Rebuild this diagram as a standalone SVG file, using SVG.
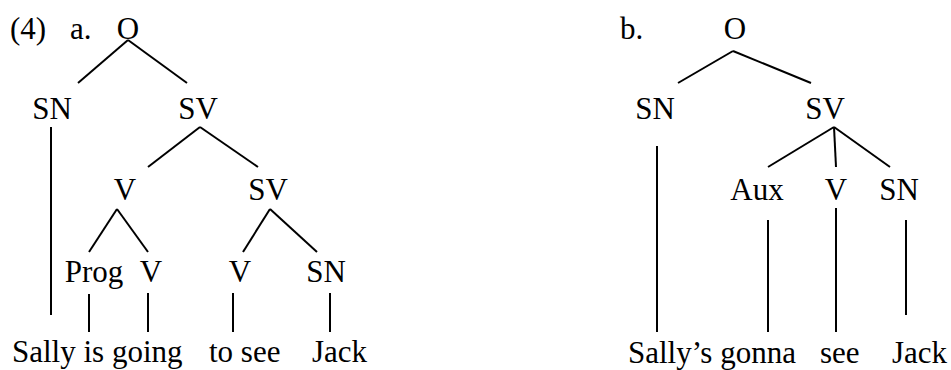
<svg xmlns="http://www.w3.org/2000/svg" width="951" height="370" viewBox="0 0 951 370">
<style>
text{font-family:"Liberation Serif","Times New Roman",serif;font-size:31px;fill:#000}
.c{text-anchor:middle}
line{stroke:#000;stroke-width:2}
</style>
<rect width="951" height="370" fill="#fff"/>
<g id="labels">
<text x="10" y="39">(4)</text>
<text x="70" y="39">a.</text>
<text x="620" y="39">b.</text>
</g>
<g id="tree-a">
<g id="a-O"><text class="c" x="128" y="39">O</text></g>
<g id="a-SN"><text class="c" x="52" y="119">SN</text></g>
<g id="a-SV"><text class="c" x="198" y="119">SV</text></g>
<g id="a-V"><text class="c" x="125" y="200">V</text></g>
<g id="a-SV2"><text class="c" x="268" y="200">SV</text></g>
<g id="a-Prog"><text class="c" x="94" y="282">Prog</text></g>
<g id="a-V2"><text class="c" x="151" y="282">V</text></g>
<g id="a-V3"><text class="c" x="240" y="282">V</text></g>
<g id="a-SN2"><text class="c" x="326" y="282">SN</text></g>
<g id="a-words"><text x="12" y="362">Sally is going</text><text x="209" y="362">to see</text><text x="312" y="362">Jack</text></g>
</g>
<g id="tree-b">
<g id="b-O"><text class="c" x="735" y="39">O</text></g>
<g id="b-SN"><text class="c" x="655" y="119">SN</text></g>
<g id="b-SV"><text class="c" x="825" y="119">SV</text></g>
<g id="b-Aux"><text class="c" x="757" y="200">Aux</text></g>
<g id="b-V"><text class="c" x="836" y="200">V</text></g>
<g id="b-SN2"><text class="c" x="899" y="200">SN</text></g>
<g id="b-words"><text x="628" y="363">Sally’s gonna</text><text x="820" y="363">see</text><text x="892" y="363">Jack</text></g>
</g>
<g id="connectors">
<line x1="128" y1="40" x2="78" y2="83"/>
<line x1="128" y1="40" x2="187" y2="83"/>
<line x1="51" y1="127" x2="51" y2="315"/>
<line x1="200" y1="127" x2="148" y2="167"/>
<line x1="200" y1="127" x2="258" y2="167"/>
<line x1="117" y1="209" x2="89" y2="252"/>
<line x1="117" y1="209" x2="148" y2="252"/>
<line x1="270" y1="209" x2="243" y2="252"/>
<line x1="270" y1="209" x2="317" y2="252"/>
<line x1="89" y1="294" x2="89" y2="332"/>
<line x1="148" y1="293" x2="148" y2="332"/>
<line x1="233" y1="293" x2="233" y2="332"/>
<line x1="330" y1="293" x2="330" y2="332"/>
<line x1="733" y1="51" x2="678" y2="83"/>
<line x1="733" y1="51" x2="811" y2="83"/>
<line x1="657" y1="146" x2="657" y2="332"/>
<line x1="834" y1="127" x2="768" y2="167"/>
<line x1="834" y1="127" x2="836" y2="167"/>
<line x1="834" y1="127" x2="890" y2="167"/>
<line x1="768" y1="220" x2="768" y2="332"/>
<line x1="836" y1="208" x2="836" y2="332"/>
<line x1="906" y1="220" x2="906" y2="315"/>
</g>
</svg>
